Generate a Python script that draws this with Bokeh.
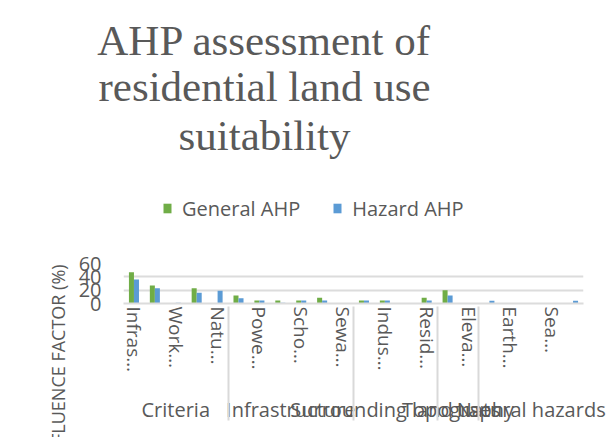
from bokeh.plotting import figure
from bokeh.layouts import column
from bokeh.models import (FactorRange, ColumnDataSource, FixedTicker, Legend,
                          LegendItem, Label, CustomJSTickFormatter, Range1d)
from bokeh.transform import dodge
from bokeh.embed import file_html
from bokeh.resources import INLINE

# ---------------- data ----------------
groups = ["Criteria", "Infrastructure", "Surrounding land uses", "Topography", "Natural hazards"]
subcategories = [
    ["Infrastructure", "Surrounding land uses", "Workplaces", "Topography", "Natural hazards"],
    ["Roads", "Power supply", "Water supply", "Schools", "Hospitals", "Sewage"],
    ["Agricultural", "Industrial", "Commercial", "Residential"],
    ["Slope", "Elevation"],
    ["Flood", "Earthquake", "Landslide", "Sea level rise", "Tsunami"],
]
# labels as displayed (every other one shown, truncated)
tick_labels = ["Infras…", "", "Work…", "", "Natu…",
               "", "Powe…", "", "Scho…", "", "Sewa…",
               "", "Indus…", "", "Resid…",
               "", "Eleva…",
               "", "Earth…", "", "Sea…", ""]
general_ahp = [47, 27, 0.4, 23, 0,
               12, 4.5, 4.5, 4.5, 8.5, 0.6,
               4.5, 4.5, 0.6, 8.5,
               20, 0.6,
               0, 0.6, 0.6, 0.6, 0]
hazard_ahp = [36, 23, 1, 16, 19,
              8, 4.5, 1.2, 4.5, 4.5, 0.6,
              4.5, 4.5, 0.6, 4.5,
              12, 0.6,
              4, 0.6, 0.6, 0.6, 4]
y_ticks = [0, 20, 40, 60]
series_names = ["General AHP", "Hazard AHP"]
series_colors = ["#70AD47", "#5B9BD5"]
title_lines = ["AHP assessment of", "residential land use", "suitability"]
y_title = "INFLUENCE FACTOR (%)"

factors = [(g, s) for g, subs in zip(groups, subcategories) for s in subs]
source = ColumnDataSource(dict(x=factors, general=general_ahp, hazard=hazard_ahp))

TXT = "#595959"
FONT = "Open Sans"
W = 608

# ---------------- header: title + legend ----------------
# same bars, but the y range lies far above them so they stay out of view;
# they only provide the legend swatches
head = figure(width=W, height=240, title=None,
              x_range=FactorRange(*factors, group_padding=0, range_padding=0),
              y_range=Range1d(1000, 1001), x_axis_type=None, y_axis_type=None,
              output_backend="svg", toolbar_location=None,
              min_border=0, outline_line_color=None)
head.grid.grid_line_color = None

# chart (frame alignment between the two figures off, so the header frame is full width)
p = figure(width=W, height=197, title=None,
           x_range=FactorRange(*factors, group_padding=0, factor_padding=0,
                               range_padding=0),
           y_range=(0, 60),
           output_backend="svg", toolbar_location=None,
           min_border_left=123, min_border_right=25,
           min_border_top=23, min_border_bottom=134,
           outline_line_color=None)

try:
    head.frame_align = False
    p.frame_align = False
    x0 = 0
except Exception:
    x0 = 123

for line, y in zip(title_lines, [200.3, 153.7, 105.3]):
    head.add_layout(Label(x=264 - x0, y=y, x_units="screen", y_units="screen",
                          text=line, text_align="center",
                          text_baseline="alphabetic",
                          text_font="Liberation Serif", text_font_size="43px",
                          text_color=TXT))

h1 = head.vbar(x="x", top="general", width=0.24, source=source,
               color=series_colors[0], line_color=None)
h2 = head.vbar(x="x", top="hazard", width=0.24, source=source,
               color=series_colors[1], line_color=None)
legend = Legend(items=[LegendItem(label=series_names[0], renderers=[h1]),
                       LegendItem(label=series_names[1], renderers=[h2])],
                orientation="horizontal", location=(162 - x0, 18.5),
                padding=0, margin=0, spacing=32,
                glyph_width=10, glyph_height=12, label_height=12,
                label_standoff=10,
                label_text_font=FONT, label_text_font_size="20px",
                label_text_color=TXT,
                border_line_color=None, background_fill_color=None)
head.add_layout(legend)

p.vbar(x=dodge("x", -0.12, range=p.x_range), top="general", width=0.24,
       source=source, color=series_colors[0], line_color=None)
p.vbar(x=dodge("x", 0.12, range=p.x_range), top="hazard", width=0.24,
       source=source, color=series_colors[1], line_color=None)

# y axis
ya = p.yaxis[0]
ya.ticker = FixedTicker(ticks=y_ticks)
ya.axis_line_color = None
ya.major_tick_line_color = None
ya.minor_tick_line_color = None
ya.major_tick_out = 0
ya.major_tick_in = 0
ya.major_label_standoff = 22
ya.major_label_text_font = FONT
ya.major_label_text_font_size = "20px"
ya.major_label_text_color = TXT
# the original title hangs low and runs off the bottom edge; trailing no-break
# spaces shift the centred label down so only "…ENCE FACTOR (%)" is in view
ya.axis_label = y_title + "\u00a0" * 34
ya.axis_label_standoff = 6
ya.axis_label_text_font = FONT
ya.axis_label_text_font_size = "18px"
ya.axis_label_text_font_style = "normal"
ya.axis_label_text_color = TXT

p.ygrid.grid_line_color = "#dcdcdc"
p.ygrid.grid_line_width = 2
p.xgrid.grid_line_color = None

# x axis: show the truncated labels (every other one), keep groups as they are
xa = p.xaxis[0]
xa.formatter = CustomJSTickFormatter(
    args=dict(shown=tick_labels),
    code="""
if (ticks.length == shown.length) {
  const s = shown[index];
  // an invisible spacer keeps room for the group row like the original
  return (s == "" && index == 1) ? " ".repeat(17) : s;
}
return tick;
""")
xa.axis_line_color = "#dcdcdc"
xa.axis_line_width = 2
xa.major_tick_line_color = None
xa.major_tick_out = 0
xa.major_tick_in = 0
xa.major_label_standoff = 3
xa.major_label_orientation = "vertical"
xa.major_label_text_font = FONT
xa.major_label_text_font_size = "19px"
xa.major_label_text_color = TXT
xa.group_text_font = FONT
xa.group_text_font_size = "20px"
xa.group_text_color = TXT
xa.group_text_font_style = "normal"
xa.separator_line_color = "#d9d9d9"
xa.separator_line_width = 2

layout = column(head, p, spacing=0)
open("out.html", "w").write(file_html(layout, INLINE))
